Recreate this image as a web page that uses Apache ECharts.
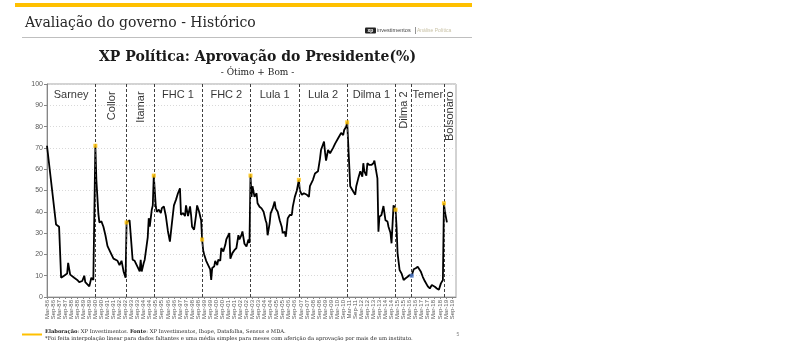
<!DOCTYPE html>
<html><head><meta charset="utf-8">
<script src="https://cdn.jsdelivr.net/npm/echarts@6/dist/echarts.min.js"></script>
<style>html,body{margin:0;padding:0;background:#fff}#c{width:800px;height:355px}</style>
</head><body><div id="c"></div>
<script>
// ---------- data ----------
const axisStart = '1986-03';
const axisEnd = '2020-01';
const monthNames = ['Jan','Feb','Mar','Apr','May','Jun','Jul','Aug','Sep','Oct','Nov','Dec'];
const tickMonths = ['Mar','Sep'];

const obsMonth = [
 '1986-03','1986-12','1987-03','1987-05','1987-08','1987-11','1987-12','1988-02','1988-06','1988-09','1988-11','1988-12','1989-02','1989-04','1989-05','1989-09','1989-11','1990-01',
 '1990-03','1990-04','1990-06','1990-07','1990-09','1990-11','1991-01','1991-03','1991-04','1991-06','1991-09','1992-01','1992-03','1992-05','1992-07','1992-09',
 '1992-10','1992-11','1993-01','1993-04','1993-06','1993-09','1993-11','1993-12','1994-01','1994-03','1994-04','1994-07','1994-08','1994-09','1994-11','1994-12',
 '1995-01','1995-03','1995-04','1995-06','1995-08','1995-09','1995-11','1996-01','1996-03','1996-05','1996-07','1996-09','1996-11','1997-01','1997-03','1997-04','1997-06','1997-08','1997-09','1997-11','1998-01','1998-02','1998-03','1998-05','1998-07','1998-08','1998-10','1998-12',
 '1999-01','1999-02','1999-03','1999-05','1999-07','1999-09','1999-10','1999-11','2000-01','2000-02','2000-04','2000-05','2000-07','2000-08','2000-10','2000-12','2001-01','2001-04','2001-05','2001-07','2001-09','2001-11','2002-01','2002-02','2002-04','2002-05','2002-07','2002-09','2002-11','2002-12',
 '2003-01','2003-02','2003-03','2003-05','2003-07','2003-08','2003-10','2003-12','2004-02','2004-04','2004-05','2004-06','2004-08','2004-09','2004-11','2005-01','2005-02','2005-04','2005-06','2005-08','2005-09','2005-11','2005-12','2006-02','2006-04','2006-06','2006-07','2006-09','2006-11',
 '2007-01','2007-02','2007-04','2007-06','2007-07','2007-09','2007-11','2007-12','2008-03','2008-05','2008-08','2008-10','2008-11','2009-02','2009-03','2009-04','2009-06','2009-08','2009-09','2009-11','2010-01','2010-02','2010-04','2010-05','2010-07','2010-09','2010-10','2010-12',
 '2011-01','2011-04','2011-07','2011-09','2011-10','2011-12','2012-02','2012-04','2012-05','2012-06','2012-08','2012-09','2012-11','2013-01','2013-03','2013-04','2013-07','2013-08','2013-09','2013-11','2014-01','2014-03','2014-05','2014-06','2014-08','2014-09','2014-11',
 '2015-01','2015-02','2015-03','2015-05','2015-07','2015-09','2015-11','2016-01','2016-03',
 '2016-05','2016-07','2016-09','2016-11','2017-02','2017-04','2017-06','2017-09','2017-11','2018-01','2018-04','2018-06','2018-08','2018-10','2018-12',
 '2019-01','2019-02','2019-04'
];
const obsValue = [
 71,34,33,9,10,11,16,10.5,9,8,7,7.5,7.5,10,7,5,9,8,
 71,55,39,35,35.5,33,29,24,23,21,18,17,15,17,12,9,
 35,35.5,36,17.5,17,14,12,17.5,12,16,17.5,28,37,33,41,43,
 57,42.5,40,41,39.4,41.7,42.5,38,31,26,34.7,43,45.6,48.7,51,38.6,39.4,38,43,38,42.5,38.6,33,31.6,38.6,43,40,36,
 27,22,20,17,15,13,8,13.6,14.4,17,15,17.5,17,23,21.4,24.5,27,30,18,20.6,22,23,29,27,29,30.8,25,23.7,27,25.3,
 57,47,52,47,48.7,44,42.4,41.6,40,36,34.6,29,34.6,39.3,41.6,44.8,41.6,40,36,33,30,30.7,28.3,37,38.5,38.5,42.4,47,50,
 55,50,48,48.7,48,48,47,52,55,58,59,65,69,73,68,64,69,67.5,68,70,72,71.4,74.5,73.7,77,76,78.4,80,
 82,52,49.5,48,52,55.7,59,56.5,62.8,59,57,62.8,62,62,62.8,64,55.7,30.7,37.7,38.5,42.7,36,35.4,33,30,25.2,43,
 41,33,20.5,12.7,11,8,8.8,9.5,10.3,
 10,13,13.5,14.2,12,9.5,7.5,5,4,5.6,4.8,4,3.4,6.4,8,
 44,40,35
];
const termNames = ['Sarney','Collor','Itamar','FHC 1','FHC 2','Lula 1','Lula 2','Dilma 1','Dilma 2','Temer','Bolsonaro'];
const termStart = ['1986-03','1990-03','1992-10','1995-01','1999-01','2003-01','2007-01','2011-01','2015-01','2016-05','2019-01'];
const yTicks = [0,10,20,30,40,50,60,70,80,90,100];

// ---------- build ----------
function toIdx(s){const p=s.split('-').map(Number);const q=axisStart.split('-').map(Number);return (p[0]-q[0])*12+(p[1]-q[1]);}
const nCat = toIdx(axisEnd)+1;
const startParts = axisStart.split('-').map(Number);
const categories = [];
for(let i=0;i<nCat;i++){
  const t=(startParts[1]-1)+i;
  const y=startParts[0]+Math.floor(t/12);
  categories.push(monthNames[t%12]+'-'+String(y%100).padStart(2,'0'));
}
const lineData = obsMonth.map((m,i)=>[toIdx(m),obsValue[i]]);
const valueAt = {}; obsMonth.forEach((m,i)=>valueAt[m]=obsValue[i]);
const verticalTerms = ['Collor','Itamar','Dilma 2','Bolsonaro'];
const markerData = termStart.slice(1).map((s,i)=>({
  value:[toIdx(s),valueAt[s]],
  itemStyle:{color: termNames[i+1]==='Temer' ? '#4472C4' : '#FFC000'}
}));
const labelData = termNames.map((n,i)=>{
  const a=toIdx(termStart[i]);
  const b= i+1<termStart.length ? toIdx(termStart[i+1]) : nCat-1;
  const mid=Math.round((a+b)/2);
  const vert=verticalTerms.indexOf(n)>=0;
  return {name:n, value:[mid, vert?96.5:95],
    label: vert ? {rotate:90, align:'right', verticalAlign:'middle'} : {rotate:0, align:'center', verticalAlign:'middle'}};
});

const serif = '"DejaVu Serif", serif';
const sans = '"Liberation Sans", Arial, sans-serif';
const chart = echarts.init(document.getElementById('c'), null, {renderer:'canvas'});
chart.setOption({
  animation:false,
  backgroundColor:'#ffffff',
  grid:{left:47, top:84, width:409, height:213, show:true, borderColor:'#a6a6a6', borderWidth:1, containLabel:false},
  xAxis:{
    type:'category', data:categories, boundaryGap:false,
    axisLine:{lineStyle:{color:'#868686', width:1}},
    axisTick:{show:true, length:2, interval:(i,v)=>tickMonths.indexOf(v.slice(0,3))>=0, lineStyle:{color:'#868686'}},
    axisLabel:{interval:(i,v)=>tickMonths.indexOf(v.slice(0,3))>=0 && i<=nCat-5, rotate:90, fontSize:6, color:'#595959', fontFamily:sans, margin:3},
    splitLine:{show:false}
  },
  yAxis:{
    type:'value', min:yTicks[0], max:yTicks[yTicks.length-1], interval:yTicks[1]-yTicks[0],
    axisLine:{show:true, lineStyle:{color:'#868686'}},
    axisTick:{show:true, length:3, lineStyle:{color:'#868686'}},
    axisLabel:{fontSize:7, color:'#595959', fontFamily:sans, margin:4},
    splitLine:{show:true, lineStyle:{color:'#d9d9d9', type:[1,2], width:1}}
  },
  series:[
    {type:'line', data:lineData, showSymbol:false, symbol:'none', lineStyle:{color:'#000', width:1.8}, z:3,
     markLine:{silent:true, symbol:['none','none'], label:{show:false},
       lineStyle:{color:'#404040', type:[3,2], width:1},
       data: termStart.slice(1).map(s=>({xAxis:categories[toIdx(s)]}))}},
    {type:'scatter', data:markerData, symbol:'rect', symbolSize:4, z:5},
    {type:'scatter', data:labelData, symbolSize:0, z:6, silent:true,
     label:{show:true, position:'inside', formatter:p=>p.name, fontSize:11, color:'#000', fontFamily:sans}}
  ],
  graphic:[
    {type:'rect', shape:{x:15,y:3,width:457,height:4}, style:{fill:'#FFC000'}},
    {type:'text', x:25, y:23, style:{text:'Avaliação do governo - Histórico', font:'14px '+serif, fill:'#262626', verticalAlign:'middle'}},
    {type:'line', shape:{x1:22,y1:37.5,x2:472,y2:37.5}, style:{stroke:'#bfbfbf', lineWidth:1}},
    {type:'rect', shape:{x:365,y:27.5,width:11,height:6,r:1}, style:{fill:'#222'}},
    {type:'text', x:370.5, y:30.5, style:{text:'xp', font:'bold 5px '+sans, fill:'#fff', align:'center', verticalAlign:'middle'}},
    {type:'text', x:377, y:30.5, style:{text:'investimentos', font:'5.5px '+sans, fill:'#444', verticalAlign:'middle'}},
    {type:'line', shape:{x1:415.5,y1:27,x2:415.5,y2:34}, style:{stroke:'#666', lineWidth:0.7}},
    {type:'text', x:417, y:30.5, style:{text:'Análise Política', font:'5px '+sans, fill:'#c9c2a6', verticalAlign:'middle'}},
    {type:'text', x:257.5, y:57, style:{text:'XP Política: Aprovação do Presidente(%)', font:'bold 14px '+serif, fill:'#1a1a1a', align:'center', verticalAlign:'middle'}},
    {type:'text', x:257.5, y:73, style:{text:'- Ótimo + Bom -', font:'9px '+serif, fill:'#262626', align:'center', verticalAlign:'middle'}},
    {type:'line', shape:{x1:22,y1:334.5,x2:42,y2:334.5}, style:{stroke:'#FFC000', lineWidth:2}},
    {type:'text', x:45, y:331.5, style:{text:'{b|Elaboração}{n|: XP Investimentos. }{b|Fonte}{n|: XP Investimentos, Ibope, Datafolha, Sensus e MDA.}',
      rich:{b:{fontSize:5.2, fontFamily:serif, fontWeight:'bold', fill:'#1a1a1a'}, n:{fontSize:5.2, fontFamily:serif, fill:'#262626'}}, verticalAlign:'middle'}},
    {type:'text', x:45, y:339, style:{text:'*Foi feita interpolação linear para dados faltantes e uma média simples para meses com aferição da aprovação por mais de um instituto.', font:'5.3px '+serif, fill:'#262626', verticalAlign:'middle'}},
    {type:'text', x:458, y:335, style:{text:'5', font:'5px '+sans, fill:'#888', align:'center', verticalAlign:'middle'}}
  ]
});
</script></body></html>
